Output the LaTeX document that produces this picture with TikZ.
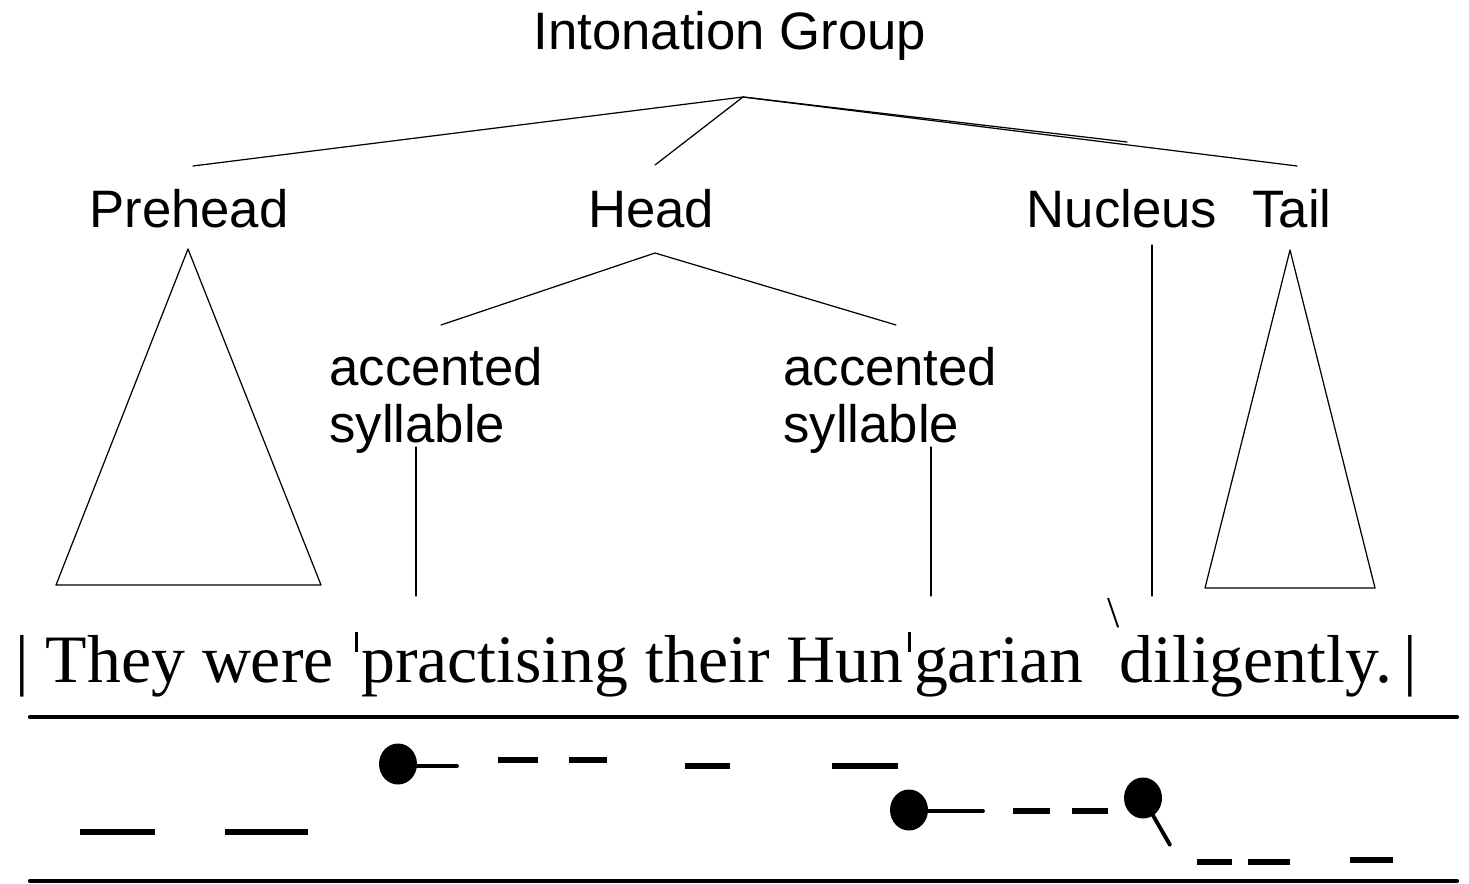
\documentclass[tikz,border=0pt]{standalone}
\usepackage{fontspec}
\usepackage{graphicx}
\setmainfont{Liberation Sans}
\newfontfamily\sentfont{Liberation Serif}
\usetikzlibrary{positioning}

\begin{document}
\begin{tikzpicture}[line cap=round,line join=round,x=0.02cm,y=-0.02cm,
  lbl/.style={font=\fontsize{30}{32.4}\selectfont,inner sep=0pt},
  branch/.style={line width=0.7pt,color=black},
  staff/.style={line width=2.4pt,color=black},
  pitch/.style={line width=3pt,line cap=butt},
  stem/.style={line width=2.2pt},
  dot/.style={fill=black}]
\useasboundingbox (0,0) rectangle (1469,884);
% tree labels
\node[lbl,anchor=base] (ig) at (730,50) {Intonation Group};
\node[lbl,anchor=base] (prehead) at (189,228) {Prehead};
\node[lbl,anchor=base] (head) at (651,228) {Head};
\node[lbl,anchor=base] (nucleus) at (1122,228) {Nucleus};
\node[lbl,anchor=base] (tail) at (1292,228) {Tail};
\node[lbl,anchor=north west,align=left] (accA) at (329,347) {accented\\syllable};
\node[lbl,anchor=north west,align=left] (accB) at (783,347) {accented\\syllable};
% ends of the branches
\coordinate (igfoot) at (743,97);
\coordinate (preheadtop) at (193,166);
\coordinate (headtop) at (655,165);
\coordinate (nucleustop) at (1127,142);
\coordinate (tailtop) at (1297,166);
\coordinate (headfoot) at (655,253);
\coordinate (accAtop) at (441,325);
\coordinate (accBtop) at (896,325);
\foreach \n in {preheadtop,headtop,nucleustop,tailtop}
\draw[branch] (igfoot) -- (\n);
\draw[branch] (accAtop) -- (headfoot) -- (accBtop);
% triangles
\draw[branch] (188,249) -- (56,585) -- (321,585) -- cycle;
\draw[branch] (1290,250) -- (1205,588) -- (1375,588) -- cycle;
% down to the sentence
\coordinate (accAfoot) at (416,596);
\coordinate (accBfoot) at (931,596);
\coordinate (nucleusfoot) at (1152,596);
\draw[branch] (416,447) -- (accAfoot);
\draw[branch] (931,447) -- (accBfoot);
\draw[branch] (1152,245) -- (nucleusfoot);
% the sentence
\newcommand{\stressmark}{\kern0.06em\raisebox{0.44em}{\rule{1.7pt}{0.3em}}\kern0.05em}
\newcommand{\fallmark}{\kern0.1em\raisebox{0.8em}{\scalebox{0.65}{\textbackslash}}}
\node[font=\sentfont\fontsize{38.6}{40}\selectfont,inner sep=0pt,anchor=base] (sent) at (716,682)
{|\ They were \stressmark practising their Hun\stressmark garian \fallmark diligently.\,|};
% staff
\draw[staff] (30,717) -- (1457,717);
\draw[staff] (30,881) -- (1457,881);
% pitch
\foreach \a/\b/\y in {80/155/832,225/308/832,498/538/760,569/607/760,685/730/766,832/898/766,
  1013/1050/811,1072/1108/811,1197/1232/862,1248/1290/862,1350/1393/860}
\draw[pitch] (\a,\y) -- (\b,\y);
\fill[dot] (398,764) ellipse [x radius=0.38cm, y radius=0.41cm];
\draw[stem] (398,766) -- (457,766);
\fill[dot] (909,810) ellipse [x radius=0.38cm, y radius=0.41cm];
\draw[stem] (909,811) -- (983,811);
\fill[dot] (1143,798) ellipse [x radius=0.38cm, y radius=0.41cm];
\draw[stem] (1143,798) -- (1170,845);
\end{tikzpicture}
\end{document}
